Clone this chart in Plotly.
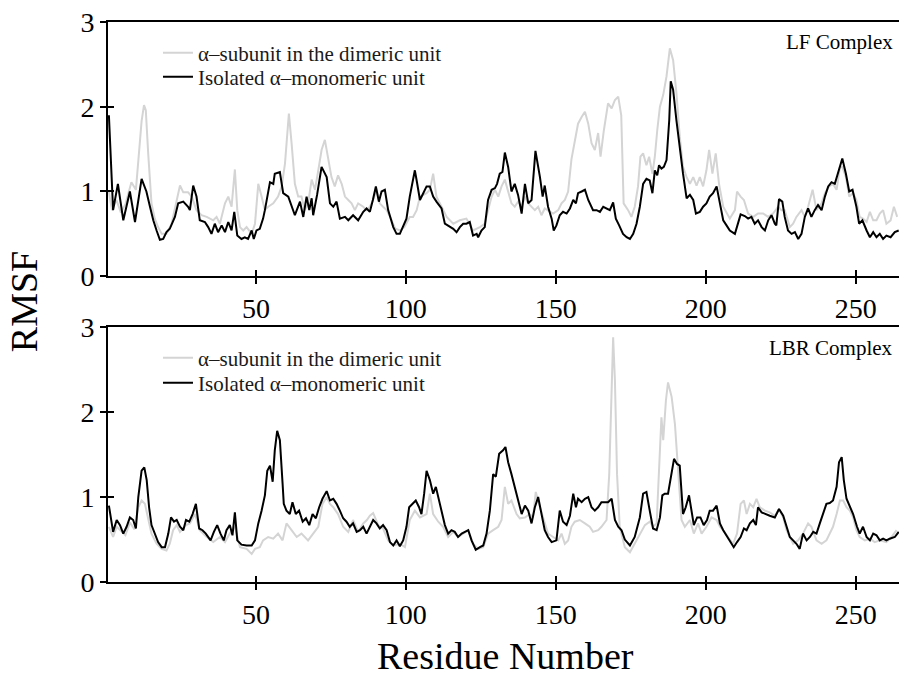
import plotly.graph_objects as go

# (residue, RMSF) readings per series
LF_DIMER = [(1,1.0),(2,0.78),(3.5,0.9),(5,0.75),(6.5,0.85),(8.5,1.11),(10,1.02),(11,1.5),(11.9,1.83),(12.7,2.02),(13.3,1.96),(14.1,1.45),(15.2,0.86),(16.3,0.68),(17.4,0.58),(18.6,0.50),(20.2,0.50),(21.9,0.62),(23.6,0.88),(24.7,1.07),(25.8,0.99),(27.4,0.99),(28.6,0.94),(30.2,0.78),(31.9,0.72),(33.6,0.70),(35.8,0.66),(36.9,0.70),(38,0.62),(39.7,0.86),(40.8,0.94),(41.9,0.82),(43,1.26),(43.8,0.78),(44.7,0.58),(45.8,0.54),(46.9,0.58),(48.6,0.50),(49.7,0.62),(50.8,1.09),(51.9,0.94),(53,0.78),(54.1,0.82),(55.8,0.86),(57.4,0.94),(58.6,1.06),(59.7,1.33),(60.4,1.65),(61,1.92),(61.9,1.57),(63,1.09),(64.1,0.94),(65.2,0.94),(66.3,0.78),(67.4,0.86),(68.6,1.14),(69.7,1.02),(70.8,1.25),(71.9,1.49),(73,1.61),(74.1,1.41),(75.2,1.17),(76.3,1.06),(77.4,1.19),(78.6,1.09),(79.7,0.94),(80.8,0.90),(81.9,0.86),(83,0.78),(84.1,0.86),(85.8,0.82),(86.9,0.78),(88,0.82),(89.1,0.90),(90.2,1.02),(91.3,0.86),(92.4,0.82),(93.6,0.78),(95,0.68),(96.5,0.56),(98,0.54),(99.5,0.58),(101.3,0.70),(102.4,0.70),(103.6,0.78),(104.7,0.94),(106.9,0.98),(108,1.02),(109.1,1.21),(110.2,0.94),(111.9,0.82),(113.6,0.70),(115.8,0.62),(118,0.66),(120.2,0.68),(122.4,0.54),(124.7,0.58),(126.3,0.62),(127.4,0.78),(128.6,0.94),(129.7,1.02),(130.8,0.94),(131.9,1.06),(133,1.14),(134.1,1.0),(135.2,0.86),(136.3,0.82),(137.4,0.88),(138.6,0.82),(139.7,0.94),(140.8,0.86),(141.9,0.82),(143,0.78),(144.1,0.82),(145.2,0.72),(146.3,0.80),(147.4,0.78),(149.1,0.74),(150.8,0.78),(151.9,0.86),(153,0.90),(154.1,1.0),(155.2,1.38),(156.3,1.57),(157.4,1.80),(158.6,1.88),(159.7,1.94),(160.8,1.80),(161.9,1.57),(163,1.49),(164.1,1.69),(164.9,1.41),(166,1.72),(167.4,2.04),(168.6,1.98),(169.7,2.08),(170.8,2.12),(171.8,1.9),(172.6,0.86),(174.1,0.78),(175.2,0.70),(176.3,0.82),(177.4,1.06),(178.2,1.41),(179.1,1.45),(180.2,1.31),(181.1,1.41),(182.2,1.21),(183,1.41),(183.8,1.72),(184.7,2.0),(185.8,2.14),(186.9,2.36),(188,2.69),(189.1,2.55),(190.2,2.16),(191.3,1.65),(192.4,1.29),(193.6,1.17),(194.7,1.09),(195.8,1.17),(196.9,1.07),(198,1.17),(199.1,1.06),(200.2,1.25),(201.1,1.49),(202.2,1.21),(203.3,1.45),(204.4,1.09),(205.8,0.82),(206.9,0.74),(208,0.68),(209.7,0.78),(210.4,1.0),(211.6,0.94),(212.7,0.90),(214.1,0.74),(215.8,0.70),(217.4,0.74),(219.1,0.74),(220.8,0.70),(222.4,0.74),(224.1,0.82),(225.2,0.78),(226.3,0.78),(228,0.58),(229.1,0.62),(230.2,0.70),(231.9,0.78),(233,0.70),(234.1,0.82),(235.6,1.02),(236.9,0.78),(238.6,0.86),(239.7,0.98),(241.1,1.06),(242.4,1.09),(243.6,1.02),(244.7,1.29),(245.5,1.29),(246.7,1.17),(247.8,0.94),(249.1,0.98),(250.2,0.90),(251.3,0.70),(252.4,0.68),(253.6,0.64),(254.7,0.76),(255.8,0.66),(256.9,0.66),(258,0.74),(259.1,0.78),(260.2,0.62),(261.6,0.66),(262.7,0.82),(263.8,0.70)]

LF_MONO = [(1,1.9),(2.4,0.78),(4,1.09),(5.8,0.66),(8,1.0),(9.7,0.64),(11.9,1.15),(13.5,1.0),(14.7,0.82),(15.8,0.66),(16.9,0.54),(18,0.43),(19.1,0.44),(20.2,0.52),(21.3,0.56),(23,0.70),(24.1,0.86),(25.8,0.88),(27.4,0.82),(28,0.78),(29.1,1.07),(30.2,0.94),(31.3,0.66),(33,0.64),(34.1,0.58),(35.2,0.50),(36.3,0.62),(37.4,0.52),(38.6,0.60),(39.7,0.52),(40.8,0.64),(41.9,0.54),(42.8,0.76),(43.8,0.48),(45.2,0.44),(46.3,0.46),(47.4,0.44),(48.6,0.54),(49.3,0.44),(50.2,0.54),(51.3,0.56),(52.4,0.68),(53,0.78),(54.1,1.0),(54.7,1.11),(55.8,1.09),(56.3,1.21),(58,1.23),(59.1,0.98),(60.8,0.94),(61.9,0.82),(63,0.72),(64.7,0.88),(65.8,0.70),(66.9,0.94),(67.8,0.78),(68.6,0.92),(69.1,0.72),(70.4,0.96),(71.9,1.29),(73.6,1.17),(74.7,0.86),(75.8,0.82),(76.9,0.88),(78,0.68),(79.7,0.70),(80.8,0.66),(82.4,0.72),(84.1,0.66),(85.8,0.76),(86.9,0.80),(88,0.76),(89,0.90),(90,1.06),(91,0.88),(91.9,1.0),(93,1.02),(94.1,0.78),(95.8,0.58),(96.9,0.50),(98,0.50),(99.1,0.58),(100.2,0.68),(101.3,0.94),(102.4,1.17),(103,1.25),(103.6,1.13),(104.7,0.90),(105.8,0.98),(106.9,1.06),(108,1.06),(109.1,0.94),(110.2,0.88),(111.9,0.80),(113,0.62),(114.7,0.58),(115.8,0.56),(116.9,0.52),(118,0.58),(119.1,0.62),(120.2,0.62),(121.3,0.64),(122.4,0.48),(123.6,0.50),(124.1,0.46),(125.2,0.54),(126.3,0.58),(127.4,0.90),(128.6,1.02),(129.7,1.04),(130.4,1.09),(131.3,1.21),(132.2,1.23),(133,1.46),(134.1,1.29),(135.2,1.0),(136.3,1.09),(137.4,0.96),(138.6,0.74),(139.7,1.09),(140.8,0.86),(141.9,0.90),(143.2,1.48),(144.7,1.17),(145.6,0.94),(146.3,1.07),(147.4,0.82),(148.6,0.68),(149.3,0.54),(150.2,0.60),(151.3,0.72),(152.4,0.76),(153.6,0.74),(154.7,0.80),(155.8,0.90),(156.7,0.86),(157.4,0.98),(158.6,1.0),(159.7,1.02),(160.8,0.90),(161.7,0.82),(162.4,0.78),(163.6,0.78),(164.7,0.76),(165.8,0.82),(166.9,0.80),(168,0.78),(169.1,0.87),(170,0.68),(171.1,0.60),(172.4,0.50),(173.6,0.46),(174.7,0.44),(175.8,0.50),(176.9,0.62),(178,0.82),(179.1,1.09),(180.2,1.15),(181.3,1.13),(182.2,0.98),(183,1.25),(183.8,1.19),(184.4,1.31),(185.2,1.27),(186,1.29),(186.9,1.37),(187.8,1.84),(188.3,2.30),(189.1,2.20),(190.2,1.84),(191.3,1.49),(192.4,1.21),(193.6,0.92),(194.7,0.96),(195.8,0.90),(196.7,0.74),(198,0.76),(199.1,0.82),(200.2,0.86),(201.3,0.94),(202.4,0.98),(203.6,1.06),(204.7,0.86),(205.8,0.66),(206.9,0.60),(208,0.54),(209.7,0.50),(210.8,0.62),(211.6,0.73),(213,0.71),(214.1,0.68),(215.2,0.70),(216.3,0.62),(217.4,0.66),(218.6,0.58),(219.7,0.54),(220.8,0.66),(221.9,0.72),(223,0.62),(223.5,0.60),(224.4,0.91),(225.5,0.88),(226.3,0.70),(227.4,0.54),(228.6,0.50),(229.7,0.52),(230.8,0.44),(231.9,0.50),(233,0.70),(234.1,0.80),(235.2,0.70),(236.3,0.78),(237.4,0.84),(238.6,0.78),(239.7,0.94),(240.8,1.06),(241.9,1.11),(243,1.09),(244.1,1.21),(245.5,1.39),(246.7,1.21),(247.8,1.0),(248.9,1.02),(250.2,0.82),(251.1,0.62),(252.2,0.66),(253.6,0.54),(254.7,0.46),(255.8,0.52),(256.9,0.46),(258,0.50),(259.1,0.44),(260.2,0.48),(261.6,0.46),(263,0.52),(264.3,0.54)]

LBR_DIMER = [(1,0.65),(2.4,0.53),(3.6,0.65),(5,0.60),(6.5,0.55),(8,0.70),(9.5,0.62),(10.8,0.88),(11.9,0.96),(13,0.92),(14.1,0.76),(15.2,0.57),(16.9,0.45),(18.6,0.39),(20.2,0.37),(21.3,0.45),(22.4,0.61),(23.6,0.67),(24.7,0.59),(26.7,0.67),(28,0.69),(29.7,0.80),(31.3,0.61),(33.6,0.53),(35.8,0.47),(38,0.53),(39.7,0.47),(41.3,0.57),(43,0.65),(44.7,0.41),(46.9,0.39),(48.6,0.33),(49.7,0.39),(51.3,0.41),(52.4,0.49),(54.1,0.53),(55.8,0.51),(57.4,0.57),(58.9,0.49),(60.2,0.69),(61.9,0.61),(63.6,0.53),(65.2,0.57),(66.3,0.53),(67.4,0.49),(69.1,0.57),(70.8,0.65),(72.2,0.92),(73.6,1.0),(74.7,0.92),(75.8,0.88),(77.4,0.80),(79.1,0.65),(80.8,0.59),(82.4,0.73),(84.1,0.59),(85.8,0.69),(87,0.73),(88,0.78),(89.1,0.81),(90.8,0.67),(92.4,0.63),(94.1,0.49),(95.8,0.43),(98,0.45),(99.7,0.41),(101.3,0.73),(103,0.84),(104.7,0.76),(106.9,0.80),(108,1.04),(109.1,0.80),(110.8,0.71),(112.4,0.65),(114.1,0.53),(115.8,0.59),(117.4,0.53),(119.1,0.57),(120.8,0.61),(122.4,0.45),(124.1,0.39),(125.8,0.41),(127.4,0.57),(129.1,0.61),(130.8,0.65),(131.9,0.73),(133,1.12),(134.1,0.92),(135.2,0.96),(136.9,0.80),(138,0.75),(139.7,0.76),(141.3,0.80),(142.4,0.76),(143.3,1.06),(144.7,0.88),(145.8,0.76),(147.4,0.57),(149.1,0.53),(150.8,0.49),(151.9,0.57),(153,0.45),(154.1,0.49),(155.2,0.65),(156.3,0.71),(158,0.73),(159.7,0.69),(161.3,0.65),(162.4,0.59),(164.1,0.61),(165.2,0.65),(166.9,0.73),(167.8,1.27),(168.6,2.25),(169.1,2.88),(169.7,2.37),(170.4,1.27),(171.3,0.65),(173,0.41),(174.7,0.35),(176.3,0.45),(178,0.57),(179.7,0.67),(181.3,0.71),(182.4,0.65),(183.6,0.69),(184.4,1.27),(185.2,1.94),(185.8,1.67),(186.7,2.14),(187.4,2.35),(188.6,2.18),(189.7,1.86),(190.8,1.27),(191.9,0.73),(193,0.65),(194.7,0.73),(196,0.57),(197.4,0.69),(198.6,0.57),(200.2,0.65),(201.9,0.76),(203.6,0.73),(204.7,0.65),(205.8,0.61),(207.4,0.53),(209.1,0.45),(210.4,0.57),(211.6,0.92),(212.7,0.96),(213.6,0.80),(214.7,0.92),(215.8,0.88),(216.9,0.98),(218,0.88),(219.7,0.84),(221.3,0.82),(223,0.78),(224.4,0.86),(225.8,0.76),(226.9,0.61),(228,0.53),(229.1,0.45),(230.8,0.49),(232.4,0.57),(234.1,0.69),(235.2,0.65),(236.9,0.49),(238.6,0.45),(240.2,0.49),(242.4,0.65),(243.6,0.80),(244.7,0.96),(245.8,0.96),(246.9,0.88),(248,0.84),(249.1,0.76),(250.2,0.61),(251.3,0.53),(253,0.49),(254.7,0.51),(256.3,0.47),(258,0.49),(260.2,0.47),(261.9,0.53),(263.6,0.61)]

LBR_MONO = [(1,0.90),(2.4,0.59),(3.6,0.73),(4.7,0.67),(5.8,0.57),(6.9,0.65),(8,0.76),(9.1,0.73),(10,0.63),(10.8,1.0),(11.9,1.31),(12.8,1.35),(13.6,1.20),(14.4,0.88),(15.2,0.67),(16.3,0.57),(17.4,0.47),(18.6,0.41),(19.7,0.41),(20.8,0.57),(21.7,0.76),(22.7,0.71),(23.6,0.73),(24.7,0.65),(25.8,0.61),(26.7,0.73),(27.8,0.71),(28.9,0.80),(30,0.92),(31.1,0.63),(32.2,0.61),(33.3,0.57),(34.9,0.49),(36,0.59),(37.1,0.67),(38.2,0.57),(39.3,0.49),(40.2,0.61),(41.3,0.67),(42.2,0.55),(43,0.82),(43.8,0.49),(45.2,0.44),(46.9,0.43),(48.6,0.43),(49.7,0.49),(50.8,0.69),(51.9,0.84),(53,1.02),(53.8,1.31),(54.7,1.37),(55.6,1.18),(56.3,1.55),(57.1,1.78),(58,1.67),(58.9,1.16),(59.3,0.92),(60.2,0.84),(61.3,0.80),(62.2,0.94),(63.3,0.80),(64.4,0.84),(65.6,0.71),(66.7,0.75),(67.8,0.67),(68.9,0.80),(70,0.75),(71.1,0.88),(72.2,0.98),(73.6,1.07),(74.7,0.96),(75.8,0.98),(76.9,0.92),(78,0.84),(79.1,0.75),(80.2,0.71),(81.3,0.65),(82.4,0.69),(83.6,0.59),(84.7,0.61),(85.8,0.65),(86.9,0.57),(88,0.65),(89.1,0.73),(90.2,0.69),(91.3,0.63),(92.4,0.67),(93.6,0.61),(94.7,0.47),(95.8,0.43),(96.9,0.49),(98,0.42),(99.1,0.49),(100.2,0.65),(101.1,0.88),(102.2,0.92),(103.3,0.96),(104.4,0.88),(105.2,0.80),(106.1,1.04),(106.9,1.31),(108,1.20),(109.1,1.04),(110,1.12),(110.8,1.0),(111.9,0.80),(113,0.67),(114.1,0.57),(115.2,0.61),(116.3,0.59),(117.4,0.53),(118.6,0.57),(119.7,0.59),(120.8,0.61),(121.9,0.49),(123.3,0.38),(124.7,0.41),(125.8,0.43),(126.9,0.57),(128,0.84),(129.1,1.27),(130,1.24),(131.1,1.51),(132.4,1.55),(133.2,1.59),(134.1,1.41),(135.2,1.27),(136.3,1.12),(137.4,0.96),(138.6,0.80),(139.7,0.90),(140.8,0.84),(141.9,0.69),(143,0.88),(144.1,1.0),(145.2,0.80),(146.3,0.61),(147.4,0.53),(148.6,0.47),(150.2,0.49),(151.3,0.84),(152.4,0.71),(153.6,0.67),(154.7,0.78),(155.8,1.04),(156.7,0.88),(157.4,0.98),(158.6,0.94),(159.7,0.98),(160.8,1.0),(161.9,0.88),(163,0.84),(164.1,0.88),(165.2,0.94),(166.3,0.94),(167.4,0.94),(168.6,0.98),(169.7,0.73),(170.8,0.65),(171.9,0.61),(173,0.50),(174.7,0.43),(176.3,0.53),(178,0.76),(179.1,1.04),(180.2,1.06),(181.3,0.84),(182.4,0.63),(183.6,0.61),(184.7,0.76),(185.5,1.02),(186.3,1.04),(187.4,1.04),(188.6,1.29),(189.4,1.45),(190.4,1.39),(191.3,1.37),(192.4,0.80),(193.3,0.88),(194.4,1.02),(195.2,0.84),(196,0.67),(197.1,0.76),(198.2,0.76),(199.3,0.67),(200.4,0.73),(201.3,0.84),(202.4,0.84),(203.6,0.90),(204.7,0.69),(205.8,0.61),(206.9,0.55),(208,0.49),(209.3,0.41),(210.4,0.47),(211.6,0.53),(212.7,0.63),(213.6,0.61),(214.7,0.69),(215.8,0.73),(216.7,0.67),(217.4,0.88),(218.6,0.82),(219.7,0.80),(221.3,0.78),(223,0.76),(224.4,0.86),(225.8,0.78),(226.9,0.65),(228,0.53),(229.1,0.49),(230.2,0.45),(231.3,0.39),(232.4,0.57),(233.6,0.49),(234.7,0.53),(235.8,0.59),(236.9,0.57),(238,0.69),(239.1,0.80),(240.2,0.92),(241.3,0.93),(242.4,0.96),(243.6,1.12),(244.4,1.41),(245.3,1.47),(246,1.20),(246.9,0.98),(248,0.90),(249.1,0.80),(250.4,0.65),(251.3,0.57),(252.4,0.65),(253.6,0.53),(254.7,0.49),(255.8,0.57),(256.9,0.55),(258,0.49),(259.1,0.51),(260.2,0.49),(261.3,0.51),(263,0.53),(264.3,0.59)]

X_TICKS = [50, 100, 150, 200, 250]
Y_TICKS = [0, 1, 2, 3]
SERIES_NAMES = ["\u03b1\u2013subunit in the dimeric unit", "Isolated \u03b1\u2013monomeric unit"]
PANEL_LABELS = ["LF Complex", "LBR Complex"]
X_TITLE = "Residue Number"
Y_TITLE = "RMSF"

FONT = "Liberation Serif, Times New Roman, serif"
GRAY = "#d4d4d4"
X_RANGE = [0.7, 264.4]
Y_RANGE = [0, 3]

fig = go.Figure()


def add_series(data, name, color, xa, ya, legend):
    xs = [p[0] for p in data]
    ys = [p[1] for p in data]
    fig.add_trace(go.Scatter(x=xs, y=ys, mode="lines", name=name,
                             line=dict(color=color, width=2),
                             xaxis=xa, yaxis=ya, legend=legend))


# top panel (LF) on x2/y2, bottom (LBR) on x/y; one legend per entry
add_series(LF_DIMER, SERIES_NAMES[0], GRAY, "x2", "y2", "legend")
add_series(LF_MONO, SERIES_NAMES[1], "black", "x2", "y2", "legend2")
add_series(LBR_DIMER, SERIES_NAMES[0], GRAY, "x", "y", "legend3")
add_series(LBR_MONO, SERIES_NAMES[1], "black", "x", "y", "legend4")

# dummy traces to carry the inside-tick overlay axes
for xa, ya in [("x3", "y"), ("x", "y3"), ("x4", "y2"), ("x2", "y4")]:
    fig.add_trace(go.Scatter(x=[None], y=[None], mode="lines", showlegend=False,
                             hoverinfo="skip", xaxis=xa, yaxis=ya))

tickfont = dict(family=FONT, size=28, color="black")
xbase = dict(range=X_RANGE, tickvals=X_TICKS, ticks="outside", ticklen=6, tickwidth=2,
             tickcolor="black", showline=True, linewidth=2, linecolor="black", mirror=True,
             showgrid=False, zeroline=False, tickfont=tickfont, fixedrange=True)
ybase = dict(range=Y_RANGE, tickvals=Y_TICKS, ticks="outside", ticklen=6, tickwidth=2,
             tickcolor="black", showline=True, linewidth=2, linecolor="black",
             showgrid=False, zeroline=False, tickfont=tickfont, fixedrange=True)
xin = dict(range=X_RANGE, tickvals=X_TICKS, ticks="inside", ticklen=6, tickwidth=2,
           tickcolor="black", showline=False, showgrid=False, zeroline=False,
           showticklabels=False, fixedrange=True)
yin = dict(range=Y_RANGE, tickvals=Y_TICKS, ticks="inside", ticklen=6, tickwidth=2,
           tickcolor="black", showline=False, showgrid=False, zeroline=False,
           showticklabels=False, fixedrange=True)

BOT = [0, 0.455]
TOP = [0.546, 1]


def legend_at(y):
    return dict(x=0.0632, y=y, xanchor="left", yanchor="middle",
                bgcolor="rgba(0,0,0,0)", borderwidth=0, tracegroupgap=0,
                font=dict(family=FONT, size=21, color="#1a1a1a"))


fig.update_layout(
    width=899, height=680,
    margin=dict(l=108, r=0, t=22, b=98),
    paper_bgcolor="white", plot_bgcolor="white",
    font=dict(family=FONT, color="black"),
    xaxis=dict(xbase, domain=[0, 1], anchor="y"),
    yaxis=dict(ybase, domain=BOT, anchor="x"),
    xaxis2=dict(xbase, domain=[0, 1], anchor="y2"),
    yaxis2=dict(ybase, domain=TOP, anchor="x2"),
    xaxis3=dict(xin, overlaying="x", anchor="y"),
    yaxis3=dict(yin, overlaying="y", anchor="x"),
    xaxis4=dict(xin, overlaying="x2", anchor="y2"),
    yaxis4=dict(yin, overlaying="y2", anchor="x2"),
    legend=legend_at(0.9446),
    legend2=legend_at(0.9018),
    legend3=legend_at(0.400),
    legend4=legend_at(0.3554),
    showlegend=True,
    annotations=[
        dict(text=PANEL_LABELS[0], x=1, y=0.964, xref="paper", yref="paper",
             xanchor="right", yanchor="middle", xshift=-4, showarrow=False,
             font=dict(family=FONT, size=21, color="black")),
        dict(text=PANEL_LABELS[1], x=1, y=0.418, xref="paper", yref="paper",
             xanchor="right", yanchor="middle", xshift=-4, showarrow=False,
             font=dict(family=FONT, size=21, color="black")),
        dict(text=Y_TITLE, x=-0.106, y=0.5, xref="paper", yref="paper",
             xanchor="center", yanchor="middle", textangle=-90, showarrow=False,
             font=dict(family=FONT, size=38, color="black")),
        dict(text=X_TITLE, x=0.502, y=-0.1725, xref="paper", yref="paper",
             xanchor="center", yanchor="bottom", showarrow=False,
             font=dict(family=FONT, size=38, color="black")),
    ],
)

fig.write_html("out.html")
